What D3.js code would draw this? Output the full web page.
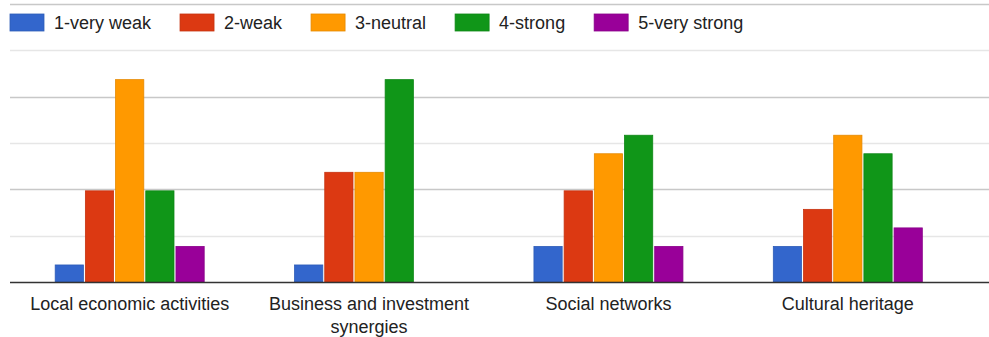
<!DOCTYPE html>
<html>
<head>
<meta charset="utf-8">
<script src="https://cdn.jsdelivr.net/npm/d3@7"></script>
<style>
    body { margin: 0; background: #fff; }
    text { font-family: "Liberation Sans", Arial, sans-serif; fill: #222; }
</style>
</head>
<body>
<script>
"use strict";

// categories along the x axis
var categories = ["Local economic activities", "Business and investment synergies", "Social networks", "Cultural heritage"];
// one series per rating
var seriesNames = ["1-very weak", "2-weak", "3-neutral", "4-strong", "5-very strong"];
var seriesColors = ["#3366cc", "#dc3912", "#ff9900", "#109618", "#990099"];
// counts per category, in series order
var veryWeak   = [1, 1, 2, 2];
var weak       = [5, 6, 5, 4];
var neutral    = [11, 6, 7, 8];
var strong     = [5, 11, 8, 7];
var veryStrong = [2, 0, 2, 3];
// gridline values
var majorTicks = [5, 10, 15];
var minorTicks = [2.5, 7.5, 12.5];

var seriesValues = [veryWeak, weak, neutral, strong, veryStrong];

var WIDTH = 989, HEIGHT = 337;
var CHART = { LEFT: 10, RIGHT: 967.5, TOP: 4, BOTTOM: 282 };

var svg = d3.select("body").append("svg")
            .attr("width", WIDTH)
            .attr("height", HEIGHT);

var x0 = d3.scaleBand()
           .domain(categories)
           .range([CHART.LEFT, CHART.RIGHT]);

var groupWidth = 149;
var x1 = d3.scaleBand()
           .domain(seriesNames)
           .range([0, groupWidth])
           .paddingInner(0.065);

var y = d3.scaleLinear()
          .domain([0, 15])
          .range([CHART.BOTTOM, CHART.TOP]);

// gridlines
svg.append("g").selectAll("line.minor")
    .data(minorTicks)
    .enter()
    .append("line")
    .attr("x1", CHART.LEFT).attr("x2", WIDTH)
    .attr("y1", function(d) { return Math.round(y(d)) + 0.5; })
    .attr("y2", function(d) { return Math.round(y(d)) + 0.5; })
    .attr("stroke", "#e6e6e6")
    .attr("stroke-width", 1.5);

svg.append("g").selectAll("line.major")
    .data(majorTicks)
    .enter()
    .append("line")
    .attr("x1", CHART.LEFT).attr("x2", WIDTH)
    .attr("y1", function(d) { return Math.round(y(d)) + 0.5; })
    .attr("y2", function(d) { return Math.round(y(d)) + 0.5; })
    .attr("stroke", "#c8c8c8")
    .attr("stroke-width", 1.5);

// bars
var rows = [];
for (var i = 0; i < categories.length; i++)
{
    for (var s = 0; s < seriesNames.length; s++)
    {
        rows.push({ cat: categories[i], name: seriesNames[s], color: seriesColors[s], value: seriesValues[s][i] });
    }
}

svg.append("g").selectAll("rect")
    .data(rows.filter(function(d) { return d.value > 0; }))
    .enter()
    .append("rect")
    .attr("x", function(d) { return x0(d.cat) + (x0.bandwidth() - groupWidth) / 2 + x1(d.name); })
    .attr("y", function(d) { return y(d.value) + 1.5; })
    .attr("width", x1.bandwidth())
    .attr("height", function(d) { return y(0) - y(d.value) - 1.5; })
    .attr("fill", function(d) { return d.color; })
    .attr("stroke", function(d) { return d3.color(d.color).darker(0.3); })
    .attr("stroke-width", 0.8);

// baseline
svg.append("line")
    .attr("x1", CHART.LEFT).attr("x2", WIDTH)
    .attr("y1", y(0) + 0.5).attr("y2", y(0) + 0.5)
    .attr("stroke", "#333")
    .attr("stroke-width", 1.5);

// category labels, wrapped
var wrap = function(textSel, maxWidth)
{
    textSel.each(function()
    {
        var text = d3.select(this);
        var words = text.text().split(" ");
        var cx = text.attr("x");
        text.text(null);
        var line = [];
        var tspan = text.append("tspan").attr("x", cx).attr("dy", 0);
        for (var k = 0; k < words.length; k++)
        {
            line.push(words[k]);
            tspan.text(line.join(" "));
            if (tspan.node().getComputedTextLength() > maxWidth && line.length > 1)
            {
                line.pop();
                tspan.text(line.join(" "));
                line = [words[k]];
                tspan = text.append("tspan").attr("x", cx).attr("dy", 23).text(words[k]);
            }
        }
    });
}

svg.append("g").selectAll("text")
    .data(categories)
    .enter()
    .append("text")
    .attr("x", function(d) { return x0(d) + x0.bandwidth() / 2; })
    .attr("y", 309.5)
    .attr("text-anchor", "middle")
    .style("font-size", "18px")
    .text(function(d) { return d; })
    .call(wrap, 220);

// legend
var legend = svg.append("g");
var lx = 10;
for (var j = 0; j < seriesNames.length; j++)
{
    legend.append("rect")
        .attr("x", lx).attr("y", 14)
        .attr("width", 34).attr("height", 17)
        .attr("fill", seriesColors[j])
        .attr("stroke", d3.color(seriesColors[j]).darker(0.3))
        .attr("stroke-width", 0.8);
    var t = legend.append("text")
        .attr("x", lx + 44).attr("y", 28.5)
        .style("font-size", "18px")
        .text(seriesNames[j]);
    lx += 44 + t.node().getComputedTextLength() + 29;
}
</script>
</body>
</html>
